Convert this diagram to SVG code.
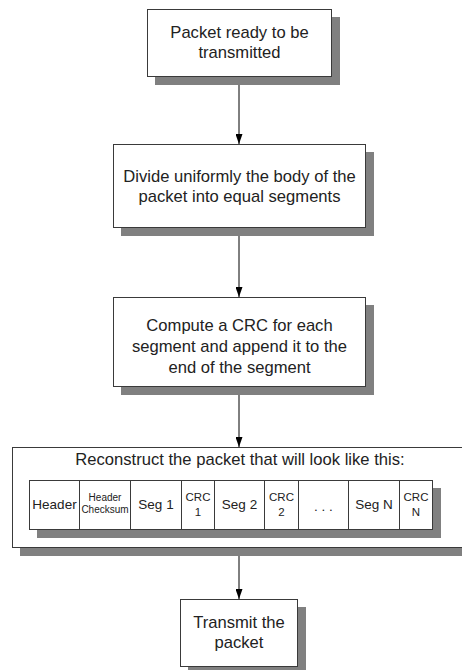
<svg xmlns="http://www.w3.org/2000/svg" width="462" height="670" viewBox="0 0 462 670">
<style>
.sh{fill:#808080;stroke:none}
.bx{fill:#fff;stroke:#3a3a3a;stroke-width:1}
.t{font-family:"Liberation Sans",Arial,sans-serif;font-size:16.6px;fill:#222;text-anchor:middle}
.c{font-family:"Liberation Sans",Arial,sans-serif;font-size:13.5px;fill:#222;text-anchor:middle}
.s{font-family:"Liberation Sans",Arial,sans-serif;font-size:11.5px;fill:#222;text-anchor:middle}
.xs{font-family:"Liberation Sans",Arial,sans-serif;font-size:10px;fill:#222;text-anchor:middle}
.ln{stroke:#000;stroke-width:1;fill:none;marker-end:url(#ah)}
</style>
<defs>
<marker id="ah" markerWidth="10" markerHeight="7" refX="10" refY="3.5" orient="auto" markerUnits="userSpaceOnUse">
<path d="M0,0 L10,3.5 L0,7 Z" fill="#000"/>
</marker>
</defs>
<rect width="462" height="670" fill="#fff"/>
<g id="connectors">
<line class="ln" x1="239" y1="77" x2="239" y2="144"/>
<line class="ln" x1="239" y1="228" x2="239" y2="297"/>
<line class="ln" x1="239" y1="387" x2="239" y2="447"/>
<line class="ln" x1="239" y1="548" x2="239" y2="599"/>
</g>
<g id="n1">
<rect class="sh" x="155" y="17" width="185" height="68"/>
<rect class="bx" x="147.5" y="9.5" width="184" height="67"/>
<text class="t" x="239.5" y="38">Packet ready to be</text>
<text class="t" x="239.5" y="58">transmitted</text>
</g>
<g id="n2">
<rect class="sh" x="121" y="152" width="253" height="84"/>
<rect class="bx" x="113.5" y="144.5" width="252" height="83"/>
<text class="t" x="239.5" y="182">Divide uniformly the body of the</text>
<text class="t" x="239.5" y="202">packet into equal segments</text>
</g>
<g id="n3">
<rect class="sh" x="121" y="305" width="253" height="90"/>
<rect class="bx" x="113.5" y="297.5" width="252" height="89"/>
<text class="t" x="239.5" y="331">Compute a CRC for each</text>
<text class="t" x="239.5" y="352">segment and append it to the</text>
<text class="t" x="239.5" y="373">end of the segment</text>
</g>
<g id="n4">
<rect class="sh" x="20" y="455" width="450" height="101"/>
<rect class="bx" x="12.5" y="447.5" width="460" height="100"/>
<text class="t" x="240" y="465">Reconstruct the packet that will look like this:</text>
<rect class="sh" x="37" y="488" width="404" height="50"/>
<rect class="bx" x="29.5" y="480.5" width="403" height="49"/>
<g stroke="#3a3a3a" stroke-width="1">
<line x1="79.5" y1="480.5" x2="79.5" y2="529.5"/>
<line x1="130.5" y1="480.5" x2="130.5" y2="529.5"/>
<line x1="181.5" y1="480.5" x2="181.5" y2="529.5"/>
<line x1="214.5" y1="480.5" x2="214.5" y2="529.5"/>
<line x1="264.5" y1="480.5" x2="264.5" y2="529.5"/>
<line x1="298.5" y1="480.5" x2="298.5" y2="529.5"/>
<line x1="348.5" y1="480.5" x2="348.5" y2="529.5"/>
<line x1="399.5" y1="480.5" x2="399.5" y2="529.5"/>
</g>
<text class="c" x="54.5" y="509">Header</text>
<text class="xs" x="105" y="501">Header</text>
<text class="xs" x="105" y="513">Checksum</text>
<text class="c" x="156" y="509">Seg 1</text>
<text class="s" x="198" y="501">CRC</text>
<text class="s" x="198" y="516">1</text>
<text class="c" x="239.5" y="509">Seg 2</text>
<text class="s" x="281.5" y="501">CRC</text>
<text class="s" x="281.5" y="516">2</text>
<text class="c" x="323.5" y="511">. . .</text>
<text class="c" x="374" y="509">Seg N</text>
<text class="s" x="416" y="501">CRC</text>
<text class="s" x="416" y="516">N</text>
</g>
<g id="n5">
<rect class="sh" x="188" y="607" width="118" height="68"/>
<rect class="bx" x="180.5" y="599.5" width="117" height="67"/>
<text class="t" x="239" y="628">Transmit the</text>
<text class="t" x="239" y="648">packet</text>
</g>
</svg>
